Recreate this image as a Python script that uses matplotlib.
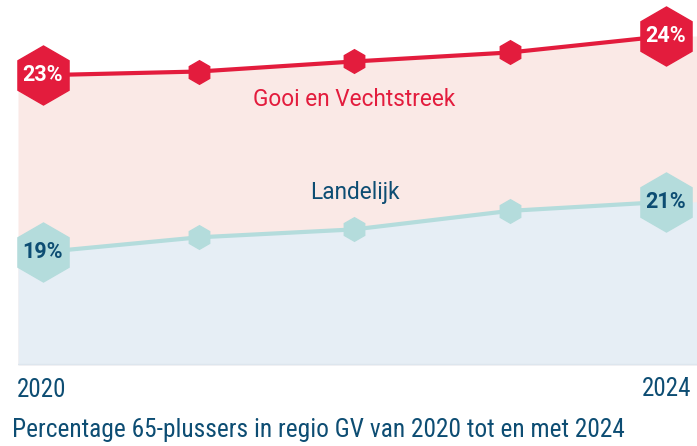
import matplotlib.pyplot as plt
from matplotlib import font_manager

# data
years = [2020, 2021, 2022, 2023, 2024]
gooi = [22.74, 22.81, 23.00, 23.17, 23.48]
landelijk = [19.40, 19.68, 19.83, 20.18, 20.35]
gooi_labels = ['23%', '24%']
land_labels = ['19%', '21%']

red = '#e31c3d'
teal = '#b4dcdc'
navy = '#0d4d73'
pink_fill = '#fae9e6'
blue_fill = '#e6eef5'

# condensed font for years / caption if available
names = {f.name for f in font_manager.fontManager.ttflist}
narrow = None
for cand in ['Roboto Condensed', 'Liberation Sans Narrow']:
    if cand in names:
        narrow = cand
        break

plt.rcParams['font.family'] = ['Roboto', 'DejaVu Sans']

fig = plt.figure(figsize=(6.97, 4.46), dpi=100)
ax = fig.add_axes([18 / 697, 81 / 446, 679 / 697, 365 / 446])

x0, x1 = 2019.84, 2024.2
y0, y1 = 17.27, 24.16
ax.set_xlim(x0, x1)
ax.set_ylim(y0, y1)

# filled areas extend to the edges of the plot
xs = [x0] + years + [x1]
ax.fill_between(xs, [gooi[0]] + gooi + [gooi[-1]], y0, color=pink_fill, lw=0)
ax.fill_between(xs, [landelijk[0]] + landelijk + [landelijk[-1]], y0, color=blue_fill, lw=0)
ax.axhline(y0 + 0.02, color='#dde6ee', lw=1)

ax.plot(years, gooi, color=red, lw=3, marker='h', ms=17, mec=red, zorder=3)
ax.plot(years, landelijk, color=teal, lw=3, marker='h', ms=17, mec=teal, zorder=3)

# big end markers with labels
ends = [0, -1]
for i, lab in zip(ends, gooi_labels):
    ax.plot(years[i], gooi[i], marker='h', ms=42.5, color=red, mec=red, zorder=4, clip_on=False)
    ax.text(years[i], gooi[i], lab, color='white', fontsize=15.5, fontweight='bold',
            ha='center', va='center', zorder=5)
for i, lab in zip(ends, land_labels):
    ax.plot(years[i], landelijk[i], marker='h', ms=42.5, color=teal, mec=teal, zorder=4, clip_on=False)
    ax.text(years[i], landelijk[i], lab, color=navy, fontsize=15.5, fontweight='bold',
            ha='center', va='center', zorder=5)

ax.text(2022, 22.28, 'Gooi en Vechtstreek', color=red, fontsize=16.3,
        ha='center', va='center')
ax.text(2022, 20.52, 'Landelijk', color=navy, fontsize=16.3, ha='center', va='center')

ax.axis('off')

if narrow:
    fam, fs_year, fs_cap = [narrow, 'Roboto'], 18, 18.3
else:
    fam, fs_year, fs_cap = ['Roboto'], 15, 15.5

fig.text(17 / 697, 1 - 390 / 446, str(years[0]), family=fam, fontsize=fs_year,
         color=navy, ha='left', va='center')
fig.text(691 / 697, 1 - 389 / 446, str(years[-1]), family=fam, fontsize=fs_year,
         color=navy, ha='right', va='center')
fig.text(12 / 697, 1 - 430 / 446,
         'Percentage 65-plussers in regio GV van 2020 tot en met 2024',
         family=fam, fontsize=fs_cap, color=navy, ha='left', va='center')

fig.savefig('out.png', dpi=100)
